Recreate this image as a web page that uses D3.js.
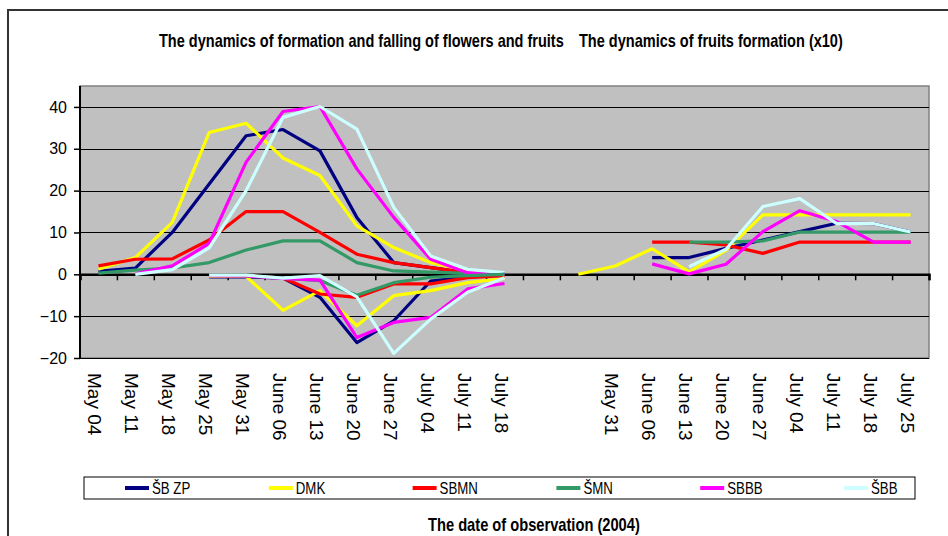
<!DOCTYPE html>
<html>
<head>
<meta charset="utf-8">
<script src="https://cdn.jsdelivr.net/npm/d3@7"></script>
<style>
  body { margin: 0; background: #fff; }
  svg { display: block; }
  .narrow { font-family: 'Liberation Sans Narrow', 'Arial Narrow', 'Liberation Sans', Arial, sans-serif; }
  .plain { font-family: 'Liberation Sans', Arial, sans-serif; }
</style>
</head>
<body>
<svg id="chart" width="948" height="536"></svg>
<script>
// category labels (two empty columns separate the two parts of the chart)
const categories = ['May 04', 'May 11', 'May 18', 'May 25', 'May 31', 'June 06', 'June 13', 'June 20',
  'June 27', 'July 04', 'July 11', 'July 18', '', '', 'May 31', 'June 06', 'June 13', 'June 20',
  'June 27', 'July 04', 'July 11', 'July 18', 'July 25'];
const yTicks = [-20, -10, 0, 10, 20, 30, 40];

const seriesNames = ['ŠB ZP', 'DMK', 'SBMN', 'ŠMN', 'SBBB', 'ŠBB'];
const seriesColors = ['#000080', '#ffff00', '#ff0000', '#339966', '#ff00ff', '#ccffff'];

// formation of flowers and fruits, columns 0..11
const formation = [
  [0.7, 1.5, 10, 21.6, 33.1, 34.6, 29.5, 13.6, 2.8, 1.6, 0.4, 0],
  [1.2, 4.0, 12.4, 33.9, 36.1, 27.8, 23.6, 11.6, 6.4, 2.8, 0.8, 0],
  [2.0, 3.6, 3.7, 8.2, 15.0, 15.0, 10.0, 4.8, 2.8, 1.6, 0.4, 0],
  [0.3, 1.0, 1.5, 2.8, 5.8, 8.0, 8.0, 2.8, 0.8, 0.5, 0.2, 0],
  [null, 0.1, 2.0, 7.4, 26.8, 38.9, 40.1, 25.2, 13.6, 3.6, 0.4, 0],
  [null, 0, 1.1, 6.3, 20.0, 37.5, 40.1, 34.7, 16.0, 4.4, 1.2, 0.4]
];

// falling of flowers and fruits, columns 0..11
const falling = [
  [null, null, null, -0.6, -0.6, -0.9, -5.5, -16.3, -11.1, -1.6, -0.6, 0],
  [null, null, null, -0.5, -0.5, -8.6, -3.9, -12.3, -5.1, -3.9, -2.0, -1.0],
  [null, null, null, -0.3, -0.3, -0.9, -4.7, -5.5, -2.3, -2.3, -0.8, -0.3],
  [null, null, null, -0.3, -0.4, -0.9, -1.5, -5.0, -2.0, -0.7, -0.3, 0],
  [null, null, null, -0.3, -0.4, -1.0, -1.4, -15.1, -11.5, -10.3, -3.5, -2.2],
  [null, null, null, -0.2, -0.2, -0.9, -0.3, -5.4, -18.9, -10.7, -4.3, -0.8]
];

// fruits formation (x10), columns 12..22
const fruits = [
  [null, null, null, 4.0, 4.0, 6.2, 8.2, 10.2, 12.2, 12.1, 10.1],
  [null, 0, 2.0, 6.1, 0.6, 5.7, 14.2, 14.2, 14.2, 14.2, 14.2],
  [null, null, null, 7.7, 7.7, 7.0, 5.0, 7.7, 7.7, 7.7, 7.7],
  [null, null, null, null, 7.7, 7.7, 8.0, 10.1, 10.1, 10.1, 10.1],
  [null, null, null, 2.5, 0.1, 2.4, 10.2, 15.2, 12.6, 7.7, 7.7],
  [null, null, null, null, 1.8, 6.0, 16.2, 18.1, 12.1, 12.1, 10.1]
];
const fruitsOffset = 12;

const plot = { left: 80, right: 929, top: 86, bottom: 358 };
const svg = d3.select('#chart');

// squeeze a text horizontally so it looks like a condensed face
function condense(sel, width, x0, y0) {
  const w = sel.node().getComputedTextLength();
  const k = Math.min(1, width / w);
  sel.attr('transform', `translate(${x0}, ${y0}) scale(${k}, 1)`);
}

// outer frame
svg.append('path')
  .attr('d', 'M8,536V10H948')
  .attr('fill', 'none')
  .attr('stroke', '#333')
  .attr('stroke-width', 2);

const title1 = svg.append('text')
  .attr('class', 'narrow')
  .attr('font-weight', 'bold')
  .attr('font-size', 18)
  .text('The dynamics of formation and falling of flowers and fruits');
condense(title1, 405, 159, 47);
const title2 = svg.append('text')
  .attr('class', 'narrow')
  .attr('font-weight', 'bold')
  .attr('font-size', 18)
  .text('The dynamics of fruits formation (x10)');
condense(title2, 264, 579, 47);

const x = d3.scaleBand()
  .domain(d3.range(categories.length))
  .range([plot.left, plot.right]);
const xEdge = d3.scaleLinear()
  .domain([0, categories.length])
  .range([plot.left, plot.right]);
const y = d3.scaleLinear()
  .domain([-20, 45])
  .range([plot.bottom, plot.top]);

svg.append('rect')
  .attr('x', plot.left)
  .attr('y', plot.top)
  .attr('width', plot.right - plot.left)
  .attr('height', plot.bottom - plot.top)
  .attr('fill', '#c0c0c0')
  .attr('stroke', '#808080')
  .attr('stroke-width', 1.5);

// gridlines
svg.append('g').selectAll('line')
  .data(yTicks.filter(d => d !== 0))
  .enter()
  .append('line')
  .attr('x1', plot.left)
  .attr('x2', plot.right)
  .attr('y1', d => Math.round(y(d)) + 0.5)
  .attr('y2', d => Math.round(y(d)) + 0.5)
  .attr('stroke', '#000')
  .attr('stroke-width', 1);

// y axis
const yAxis = svg.append('g')
  .attr('class', 'plain')
  .attr('transform', `translate(${plot.left}, 0)`)
  .call(d3.axisLeft(y).tickValues(yTicks).tickSize(6).tickPadding(7));
yAxis.select('.domain').attr('stroke', '#000').attr('stroke-width', 2)
  .attr('d', `M0,${plot.top}V${plot.bottom}`);
yAxis.selectAll('.tick line').attr('stroke', '#000').attr('stroke-width', 1.5);
yAxis.selectAll('.tick text')
  .attr('font-size', 16)
  .attr('font-family', "'Liberation Sans', Arial, sans-serif")
  .attr('fill', '#000');

// x axis along zero, ticks at column edges
const xAxis = svg.append('g')
  .attr('transform', `translate(0, ${y(0)})`)
  .call(d3.axisBottom(xEdge).tickValues(d3.range(categories.length + 1)).tickSize(6).tickFormat(''));
xAxis.select('.domain').attr('stroke', '#000').attr('stroke-width', 2.5);
xAxis.selectAll('.tick line').attr('stroke', '#000').attr('stroke-width', 1.5);

// category labels below the plot
svg.append('g').selectAll('.cat-label')
  .data(categories)
  .enter()
  .append('text')
  .attr('class', 'cat-label plain')
  .attr('transform', (d, i) => `translate(${x(i) + x.bandwidth() / 2}, 373) rotate(90)`)
  .attr('dy', 10)
  .attr('font-size', 19)
  .attr('fill', '#000')
  .text(d => d);

const line = d3.line()
  .defined(d => d.v !== null)
  .x(d => x(d.i) + x.bandwidth() / 2)
  .y(d => y(d.v));

const toPoints = (arr, offset) => arr.map((v, i) => ({ i: i + offset, v: v }));

const lines = svg.append('g');
[formation, falling].forEach(group => {
  group.forEach((vals, s) => {
    lines.append('path')
      .datum(toPoints(vals, 0))
      .attr('d', line)
      .attr('fill', 'none')
      .attr('stroke', seriesColors[s])
      .attr('stroke-width', 3.2)
      .attr('stroke-linejoin', 'round');
  });
});
fruits.forEach((vals, s) => {
  lines.append('path')
    .datum(toPoints(vals, fruitsOffset))
    .attr('d', line)
    .attr('fill', 'none')
    .attr('stroke', seriesColors[s])
    .attr('stroke-width', 3.2)
    .attr('stroke-linejoin', 'round');
});

// legend
const legend = svg.append('g');
legend.append('rect')
  .attr('x', 84)
  .attr('y', 477)
  .attr('width', 831)
  .attr('height', 22)
  .attr('fill', '#fff')
  .attr('stroke', '#000')
  .attr('stroke-width', 1);

const item = legend.selectAll('.legend-item')
  .data(seriesNames)
  .enter()
  .append('g')
  .attr('class', 'legend-item')
  .attr('transform', (d, i) => `translate(${125 + i * 143.8}, 488)`);
item.append('line')
  .attr('x1', 0)
  .attr('x2', 24)
  .attr('stroke', (d, i) => seriesColors[i])
  .attr('stroke-width', 4);
item.append('text')
  .attr('class', 'narrow')
  .attr('transform', 'translate(27, 0) scale(0.78, 1)')
  .attr('dy', '0.36em')
  .attr('font-size', 17)
  .attr('fill', '#000')
  .text(d => d);

const xTitle = svg.append('text')
  .attr('class', 'narrow')
  .attr('font-weight', 'bold')
  .attr('font-size', 18)
  .text('The date of observation (2004)');
condense(xTitle, 212, 428, 531);
</script>
</body>
</html>
